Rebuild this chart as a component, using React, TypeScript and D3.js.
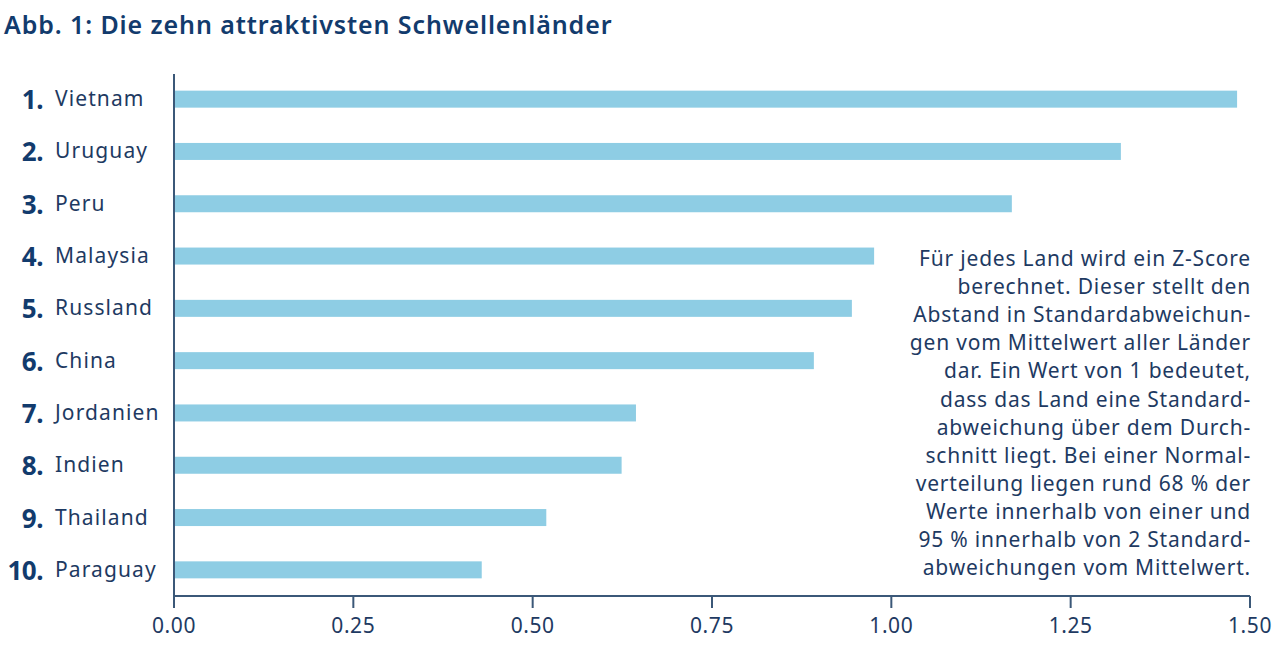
import * as d3 from 'd3'
import React from 'react'

const ranks = ['1.', '2.', '3.', '4.', '5.', '6.', '7.', '8.', '9.', '10.']
const countries = ['Vietnam', 'Uruguay', 'Peru', 'Malaysia', 'Russland', 'China', 'Jordanien', 'Indien', 'Thailand', 'Paraguay']
const zScores = [1.482, 1.32, 1.168, 0.976, 0.945, 0.892, 0.644, 0.624, 0.519, 0.429]
const ticks = [0, 0.25, 0.5, 0.75, 1.0, 1.25, 1.5]
const noteLines = [
  'Für jedes Land wird ein Z-Score',
  'berechnet. Dieser stellt den',
  'Abstand in Standardabweichun-',
  'gen vom Mittelwert aller Länder',
  'dar. Ein Wert von 1 bedeutet,',
  'dass das Land eine Standard-',
  'abweichung über dem Durch-',
  'schnitt liegt. Bei einer Normal-',
  'verteilung liegen rund 68 % der',
  'Werte innerhalb von einer und',
  '95 % innerhalb von 2 Standard-',
  'abweichungen vom Mittelwert.',
]

const W = 1272
const H = 668
const FONT = '"Noto Sans", "Open Sans", sans-serif'
const navy = '#123b6d'
const textColor = '#1e3a62'
const axisColor = '#3b5878'
const barColor = '#8ecde4'

export default function App() {
  const x = d3.scaleLinear().domain([0, 1.5]).range([174, 1250])
  const y = d3.scaleBand().domain(countries).range([73, 596]).paddingInner(0.66).paddingOuter(0.33)
  const bw = y.bandwidth()

  return (
    <svg width={W} height={H} style={{ position: 'absolute', left: 0, top: 0, background: '#fff' }}>
      <text x={4} y={34} fontFamily={FONT} fontWeight={600} fontSize={25} fill={navy} letterSpacing={0.9}>
        Abb. 1: Die zehn attraktivsten Schwellenländer
      </text>

      {countries.map((c, i) => {
        const cy = (y(c) ?? 0) + bw / 2
        return (
          <g key={c}>
            <rect x={x(0) + 1} y={cy - 8.5} width={x(zScores[i]) - x(0) - 1} height={17} fill={barColor} />
            <text x={43} y={cy + 10} textAnchor="end" fontFamily={FONT} fontWeight={700} fontSize={26} fill={navy} letterSpacing={-0.5}>
              {ranks[i]}
            </text>
            <text x={55} y={cy + 7} fontFamily={FONT} fontSize={21} fill={textColor} letterSpacing={1.1}>
              {c}
            </text>
          </g>
        )
      })}

      <line x1={x(0)} x2={x(0)} y1={74} y2={608} stroke={axisColor} strokeWidth={2} />
      <line x1={x(0)} x2={x(1.5)} y1={596} y2={596} stroke={axisColor} strokeWidth={2} />
      {ticks.map((t) => (
        <g key={t}>
          <line x1={x(t)} x2={x(t)} y1={596} y2={608} stroke={axisColor} strokeWidth={2} />
          <text x={x(t)} y={633} textAnchor="middle" fontFamily={FONT} fontSize={21} fill={textColor} letterSpacing={0.6}>
            {t.toFixed(2)}
          </text>
        </g>
      ))}

      {noteLines.map((l, i) => (
        <text key={i} x={1251} y={266 + i * 28.1} textAnchor="end" fontFamily={FONT} fontSize={21} fill={textColor} letterSpacing={0.8}>
          {l}
        </text>
      ))}
    </svg>
  )
}
